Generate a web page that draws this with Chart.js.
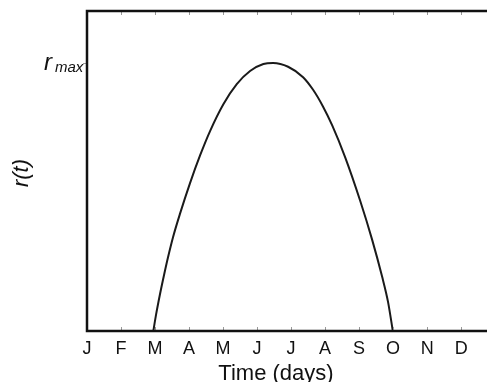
<!DOCTYPE html>
<html>
<head>
<meta charset="utf-8">
<script src="https://cdn.jsdelivr.net/npm/chart.js@4"></script>
<style>
html,body{margin:0;padding:0;background:#fff;}
#wrap{width:487px;height:382px;}
</style>
</head>
<body>
<div id="wrap"><canvas id="chart"></canvas></div>
<script>
// month letters along the time axis (index 0 = January)
const months = ["J","F","M","A","M","J","J","A","S","O","N","D"];
// curve: x in months from Jan, y relative to r_max
const tVals = [1.95, 2.029, 2.147, 2.265, 2.382, 2.529, 2.735, 3.029, 3.324, 3.618, 4.009, 4.403, 4.794, 5.185, 5.471,
               5.912, 6.353, 6.647, 6.941, 7.206, 7.588, 8.029, 8.382, 8.676, 8.853, 8.991];
const rVals = [0, 0.060, 0.138, 0.209, 0.275, 0.350, 0.438, 0.552, 0.655, 0.746, 0.846, 0.921, 0.970, 0.996, 1.0,
               0.986, 0.947, 0.900, 0.837, 0.768, 0.649, 0.487, 0.341, 0.203, 0.107, 0];
const rMax = 1;
const xTitle = "Time (days)";

const font = "'Liberation Sans', Arial, sans-serif";

// frame, small inside ticks and the hand-styled labels
const frame = {
  id: "frame",
  afterDraw(chart){
    const c = chart.ctx, a = chart.chartArea;
    const x = chart.scales.x, y = chart.scales.y;
    c.save();
    // inside ticks top and bottom
    c.strokeStyle = "#999";
    c.lineWidth = 1;
    for(let i=1;i<months.length;i++){
      const px = Math.round(x.getPixelForValue(i))+0.5;
      c.beginPath();
      c.moveTo(px,a.bottom); c.lineTo(px,a.bottom-4);
      c.moveTo(px,a.top); c.lineTo(px,a.top+4);
      c.stroke();
    }
    const ry = y.getPixelForValue(rMax);
    c.beginPath(); c.moveTo(a.left-4,ry+0.5); c.lineTo(a.left,ry+0.5); c.stroke();
    // box: left, top, bottom
    c.strokeStyle = "#111";
    c.lineWidth = 2.5;
    c.beginPath();
    c.moveTo(a.right+2,a.top); c.lineTo(a.left,a.top); c.lineTo(a.left,a.bottom); c.lineTo(a.right+2,a.bottom);
    c.stroke();
    // r_max label
    c.fillStyle = "#111";
    c.textBaseline = "alphabetic";
    c.textAlign = "left";
    c.font = "italic 24px " + font;
    c.fillText("r", 44, ry+7);
    c.font = "italic 15px " + font;
    c.fillText("max", 55, ry+9);
    // x title, a bit left of the axis centre as in the original
    c.textAlign = "center";
    c.font = "22px " + font;
    c.fillText(xTitle, 276, 380);
    // r(t) axis label
    c.translate(28, 173);
    c.rotate(-Math.PI/2);
    c.font = "italic 22px " + font;
    c.fillText("r(t)", 0, 0);
    c.restore();
  }
};

new Chart(document.getElementById("chart"),{
  type:"line",
  data:{
    datasets:[{
      data: tVals.map((t,i)=>({x:t,y:rVals[i]})),
      borderColor:"#1a1a1a",
      borderWidth:2,
      pointRadius:0,
      cubicInterpolationMode:"monotone",
      fill:false
    }]
  },
  options:{
    responsive:true,
    maintainAspectRatio:false,
    animation:false,
    layout:{padding:{left:87,top:11,right:0,bottom:0}},
    plugins:{legend:{display:false},tooltip:{enabled:false}},
    scales:{
      x:{
        type:"linear",
        min:0,
        max:11.76,
        grid:{display:false,drawTicks:false},
        border:{display:false},
        afterBuildTicks:s=>{ s.ticks = months.map((m,i)=>({value:i})); },
        afterFit:s=>{ s.height = 51; },
        ticks:{
          autoSkip:false,
          maxRotation:0,
          padding:7,
          color:"#111",
          font:{family:font,size:18},
          callback:v=>months[v]
        }
      },
      y:{
        display:false,
        min:0,
        max:1.194
      }
    }
  },
  plugins:[frame]
});
</script>
</body>
</html>
